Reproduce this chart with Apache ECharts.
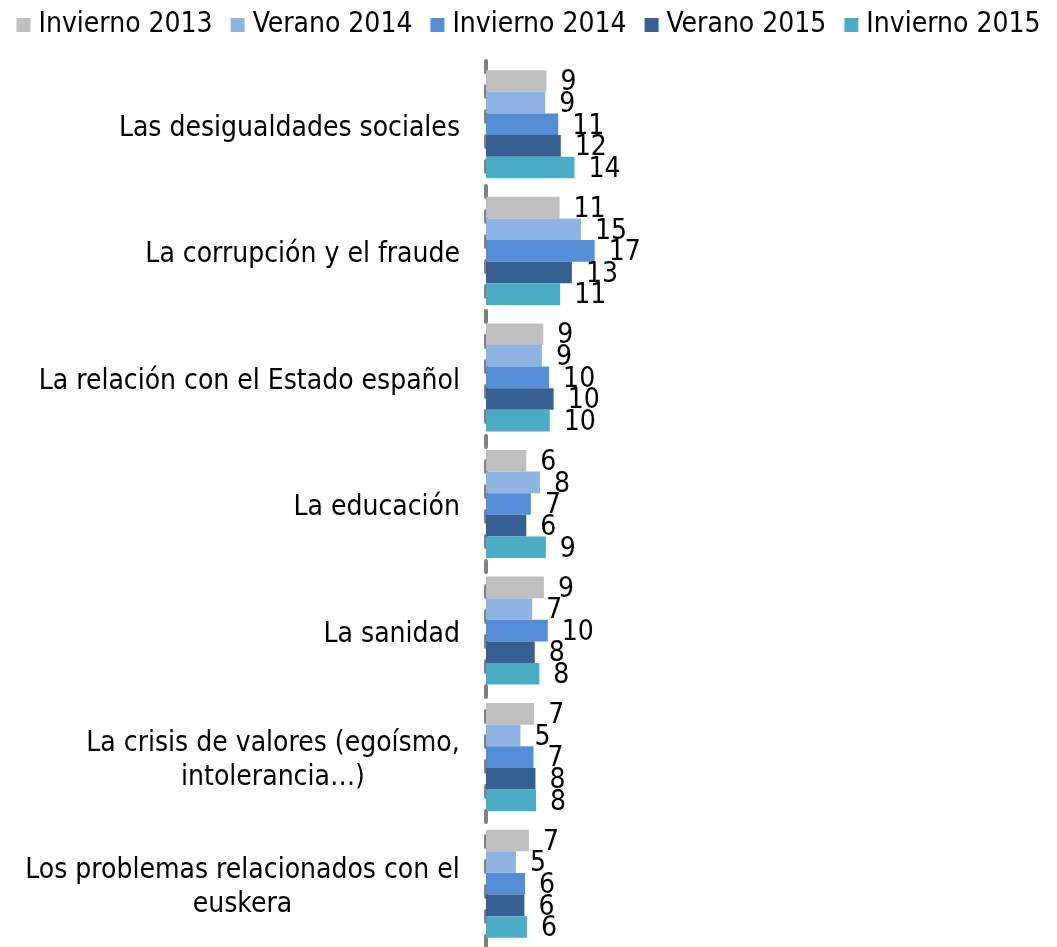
<!DOCTYPE html>
<html>
<head>
<meta charset="utf-8">
<script src="https://cdn.jsdelivr.net/npm/echarts@6/dist/echarts.min.js"></script>
<style>
  html, body { margin: 0; padding: 0; background: #fff; }
  .bar { width: 1057px; height: 947px; }
</style>
</head>
<body>
<div class="bar"></div>
<script>
const categories = [
  'Las desigualdades sociales',
  'La corrupción y el fraude',
  'La relación con el Estado español',
  'La educación',
  'La sanidad',
  'La crisis de valores (egoísmo,\nintolerancia…)',
  'Los problemas relacionados con el\neuskera'
];
const seriesNames = ['Invierno 2013', 'Verano 2014', 'Invierno 2014', 'Verano 2015', 'Invierno 2015'];
const seriesColors = ['#BFBFBF', '#8EB4E3', '#558ED5', '#376092', '#4BACC6'];
const invierno2013 = [9.3, 11.3, 8.8, 6.2, 8.9, 7.4, 6.6];
const verano2014 = [9.1, 14.6, 8.6, 8.3, 7.1, 5.3, 4.6];
const invierno2014 = [11.1, 16.7, 9.7, 6.9, 9.5, 7.3, 6.0];
const verano2015 = [11.5, 13.2, 10.4, 6.2, 7.5, 7.6, 5.9];
const invierno2015 = [13.6, 11.4, 9.8, 9.2, 8.2, 7.7, 6.3];
const seriesData = [invierno2013, verano2014, invierno2014, verano2015, invierno2015];

{
  const font = '"DejaVu Sans Condensed", "Liberation Sans", sans-serif';
  const fontSize = 28;
  // etiquetas de dos líneas: la segunda línea centrada bajo la primera
  const ctx = document.createElement('canvas').getContext('2d');
  ctx.font = fontSize + 'px ' + font;
  let rich = {};
  categories.forEach((c, i) => {
    if (c.indexOf('\n') >= 0) {
      rich['c' + i] = {
        width: Math.ceil(ctx.measureText(c.split('\n')[0]).width),
        align: 'center',
        fontSize: fontSize,
        fontFamily: font,
        color: '#000',
        lineHeight: 34
      };
    }
  });

  let option = {
    animation: false,
    textStyle: { fontFamily: font },
    legend: {
      data: seriesNames,
      top: 6,
      left: 'center',
      itemWidth: 14,
      itemHeight: 14,
      itemGap: 18,
      icon: 'rect',
      textStyle: { fontSize: fontSize, color: '#000', fontFamily: font, padding: [0, 0, 0, 3] }
    },
    grid: {
      left: 486,
      top: 61,
      width: 566,
      height: 890
    },
    xAxis: {
      type: 'value',
      min: 0,
      max: 87,
      show: false
    },
    yAxis: {
      type: 'category',
      inverse: true,
      data: categories,
      axisTick: { show: false },
      axisLine: {
        lineStyle: { color: '#808080', width: 4, type: [11, 14] }
      },
      axisLabel: {
        margin: 26,
        fontSize: fontSize,
        color: '#000',
        fontFamily: font,
        lineHeight: 32,
        padding: [8, 0, 0, 0],
        formatter: (value, index) => {
          if (value.indexOf('\n') < 0) return value;
          return value.split('\n').map(l => '{c' + index + '|' + l + '}').join('\n');
        },
        rich: rich
      }
    },
    series: seriesNames.map((name, i) => ({
      name: name,
      type: 'bar',
      data: seriesData[i],
      barGap: 0,
      barCategoryGap: '14.6%',
      itemStyle: { color: seriesColors[i] },
      label: {
        show: true,
        position: 'right',
        distance: 14,
        offset: [0, 2],
        fontSize: fontSize,
        color: '#000',
        fontFamily: font,
        formatter: p => Math.round(p.value)
      }
    }))
  };
  let myChart = echarts.init(document.querySelector('.bar'));
  myChart.setOption(option);
}
</script>
</body>
</html>
